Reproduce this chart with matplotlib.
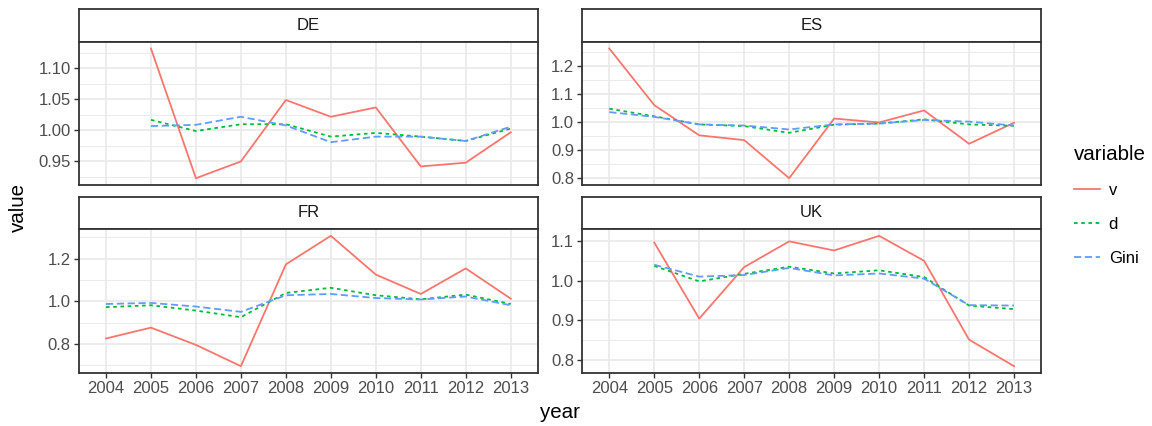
import numpy as np
import matplotlib
matplotlib.use('Agg')
from matplotlib import pyplot as plt
from matplotlib.ticker import MultipleLocator, FormatStrFormatter

plt.rcParams['font.family'] = ['Liberation Sans', 'DejaVu Sans']

# datos
years = ['2004', '2005', '2006', '2007', '2008', '2009', '2010', '2011', '2012', '2013']
countries = ['DE', 'ES', 'FR', 'UK']
variables = ['v', 'd', 'Gini']

de_v = [None, 1.132, 0.923, 0.950, 1.049, 1.022, 1.037, 0.942, 0.948, 0.997]
de_d = [None, 1.017, 0.999, 1.010, 1.010, 0.990, 0.996, 0.990, 0.983, 1.003]
de_gini = [None, 1.007, 1.009, 1.022, 1.008, 0.981, 0.990, 0.990, 0.983, 1.006]

es_v = [1.264, 1.062, 0.954, 0.937, 0.801, 1.014, 1.000, 1.043, 0.924, 0.999]
es_d = [1.049, 1.022, 0.993, 0.987, 0.963, 0.992, 0.996, 1.011, 0.993, 0.988]
es_gini = [1.037, 1.020, 0.993, 0.989, 0.975, 0.993, 0.996, 1.009, 1.003, 0.989]

fr_v = [0.825, 0.876, 0.795, 0.695, 1.173, 1.307, 1.125, 1.034, 1.154, 1.012]
fr_d = [0.972, 0.981, 0.956, 0.925, 1.039, 1.063, 1.028, 1.009, 1.031, 0.987]
fr_gini = [0.987, 0.992, 0.975, 0.950, 1.028, 1.034, 1.015, 1.008, 1.022, 0.981]

uk_v = [None, 1.096, 0.904, 1.034, 1.099, 1.076, 1.113, 1.050, 0.851, 0.784]
uk_d = [None, 1.037, 0.998, 1.017, 1.035, 1.018, 1.026, 1.009, 0.937, 0.928]
uk_gini = [None, 1.040, 1.010, 1.014, 1.032, 1.013, 1.018, 1.005, 0.938, 0.937]

series = {
    'DE': [de_v, de_d, de_gini],
    'ES': [es_v, es_d, es_gini],
    'FR': [fr_v, fr_d, fr_gini],
    'UK': [uk_v, uk_d, uk_gini],
}

# estilo tipo ggplot theme_bw
colors = ['#F8766D', '#00BA38', '#619CFF']
dashes = [None, (2, 2), (4, 2)]
y_steps = {'DE': (0.05, '%.2f'), 'ES': (0.1, '%.1f'), 'FR': (0.2, '%.1f'), 'UK': (0.1, '%.1f')}

W, H = 1152, 426
fig = plt.figure(figsize=(W / 100, H / 100), dpi=100)


def rect(x0, y0, x1, y1):
    return [x0 / W, 1 - y1 / H, (x1 - x0) / W, (y1 - y0) / H]


cols = [(79, 537.7), (582.3, 1041)]
rows = [(9, 42, 184.7), (196.7, 229.3, 372.7)]

lines = []
for i, c in enumerate(countries):
    r, k = divmod(i, 2)
    x0, x1 = cols[k]
    s0, p0, p1 = rows[r]

    # tira con el nombre del país
    sax = fig.add_axes(rect(x0, s0, x1, p0))
    sax.set_xticks([])
    sax.set_yticks([])
    sax.set_facecolor('white')
    for sp in sax.spines.values():
        sp.set_color('#333333')
        sp.set_linewidth(1.3)
    sax.text(0.5, 0.5, c, ha='center', va='center', fontsize=12,
             color='#1A1A1A', transform=sax.transAxes)

    ax = fig.add_axes(rect(x0, p0, x1, p1))
    x = np.arange(len(years))
    allv = []
    lines = []
    for vals, col, ds, name in zip(series[c], colors, dashes, variables):
        y = np.array([np.nan if v is None else v for v in vals], dtype=float)
        allv.extend(y[~np.isnan(y)])
        ln, = ax.plot(x, y, color=col, lw=1.3, label=name, zorder=3)
        if ds is not None:
            ln.set_dashes(ds)
        lines.append(ln)

    lo, hi = min(allv), max(allv)
    pad = (hi - lo) * 0.05
    ax.set_ylim(lo - pad, hi + pad)
    ax.set_xlim(-0.6, len(years) - 1 + 0.6)

    step, fmt = y_steps[c]
    ax.yaxis.set_major_locator(MultipleLocator(step))
    ax.yaxis.set_minor_locator(MultipleLocator(step / 2))
    ax.yaxis.set_major_formatter(FormatStrFormatter(fmt))
    ax.set_xticks(x)
    ax.grid(True, which='major', color='#EBEBEB', lw=1.3, zorder=0)
    ax.grid(True, which='minor', axis='y', color='#EBEBEB', lw=0.7, zorder=0)
    ax.set_axisbelow(True)
    for sp in ax.spines.values():
        sp.set_color('#333333')
        sp.set_linewidth(1.3)
    ax.tick_params(axis='both', which='major', length=3.4, width=1.0, color='#333333',
                   labelsize=12, labelcolor='#4D4D4D', pad=2.5)
    ax.tick_params(axis='y', which='minor', length=0)
    if r == 1:
        ax.set_xticklabels(years)
    else:
        ax.tick_params(axis='x', which='major', length=0, labelbottom=False)

fig.text(18 / W, 1 - 207 / H, 'value', rotation=90, ha='center', va='center', fontsize=14.8)
fig.text(560 / W, 1 - 413 / H, 'year', ha='center', va='center', fontsize=14.8)

leg = fig.legend(handles=lines, labels=variables, loc='upper left',
                 bbox_to_anchor=(1072 / W, 1 - 143 / H), frameon=False,
                 title='variable', fontsize=12, title_fontsize=14.8,
                 handlelength=1.6, handletextpad=0.5, labelspacing=1.15,
                 borderaxespad=0, borderpad=0.1)
leg._legend_box.align = 'left'

fig.savefig('out.png', dpi=100)
